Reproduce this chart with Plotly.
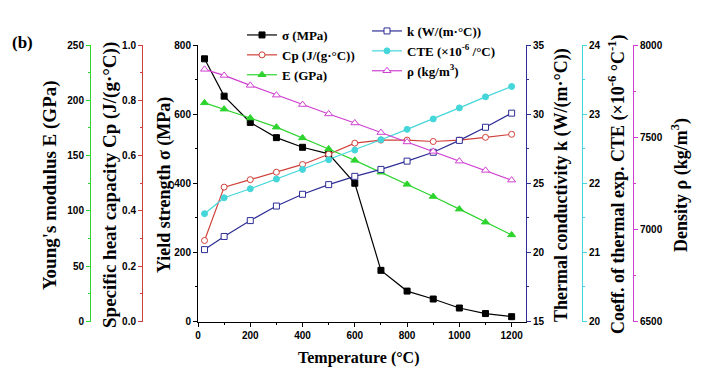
import plotly.graph_objects as go

temperature = [25, 100, 200, 300, 400, 500, 600, 700, 800, 900, 1000, 1100, 1200]
sigma = [760, 652, 576, 532, 504, 485, 400, 148, 88, 65, 39, 23, 14]
cp = [0.293, 0.486, 0.513, 0.540, 0.568, 0.605, 0.645, 0.656, 0.656, 0.651, 0.656, 0.666, 0.677]
E = [197.7, 192, 184, 175.7, 166, 156, 145.7, 135, 124, 113, 101.6, 89.8, 78.3]
k = [20.2, 21.15, 22.3, 23.35, 24.2, 24.9, 25.5, 26.0, 26.6, 27.24, 28.1, 29.05, 30.07]
cte = [21.56, 21.79, 21.92, 22.06, 22.2, 22.34, 22.48, 22.63, 22.78, 22.93, 23.09, 23.25, 23.4]
rho = [7868, 7835, 7781, 7728, 7677, 7626, 7577, 7525, 7474, 7423, 7370, 7320, 7267]

W, H = 712, 378
OFF = 8  # page body margin

def PX(x):
    return (x - OFF) / W

def PY(y):
    return 1 - (y - OFF) / H

BLACK = "#000000"
RED = "#d0403a"
GREEN = "#2ed42e"
NAVY = "#2e2e96"
CYAN = "#45d6da"
MAG = "#d040d0"

SERIF = "Liberation Serif"
SANS = "Liberation Sans"

fig = go.Figure()

def add(y, name, color, symbol, filled, yaxis, legend):
    fig.add_trace(go.Scatter(
        x=temperature, y=y, name=name, mode="lines+markers", yaxis=yaxis, legend=legend,
        line=dict(color=color, width=1.2),
        marker=dict(symbol=symbol, size=6 if symbol != "triangle-up" else 7,
                    color=color if filled else "white",
                    line=dict(color=color, width=1)),
    ))

add(sigma, "σ (MPa)", BLACK, "square", True, "y", "legend")
add(cp, "Cp (J/(g·°C))", RED, "circle", False, "y2", "legend")
add(E, "E (GPa)", GREEN, "triangle-up", True, "y3", "legend")
add(k, "k (W/(m·°C))", NAVY, "square", False, "y4", "legend2")
add(cte, "CTE (×10<sup>-6</sup> /°C)", CYAN, "circle", True, "y5", "legend2")
add(rho, "ρ (kg/m<sup>3</sup>)", MAG, "triangle-up", False, "y6", "legend2")

x0, x1 = PX(198), PX(526)
ytop, ybot = PY(45), PY(321.5)

tickfont = dict(family=SANS, size=10, color="black", weight="bold")

def yax(color, rng, dtick, mdtick, **kw):
    d = dict(range=rng, domain=[ybot, ytop], showline=True, linecolor=color, linewidth=1,
             ticks="outside", ticklen=4, tickwidth=1, tickcolor=color, dtick=dtick, tick0=rng[0],
             minor=dict(ticks="outside", ticklen=2, dtick=mdtick, tickcolor=color, tickwidth=1),
             showgrid=False, zeroline=False, tickfont=tickfont, automargin=False)
    d.update(kw)
    return d

legend_font = dict(family=SERIF, size=13, color="black", weight="bold")

fig.update_layout(
    width=W, height=H,
    margin=dict(l=0, r=0, t=0, b=0),
    paper_bgcolor="white", plot_bgcolor="white",
    xaxis=dict(domain=[x0, x1], range=[0, 1255], showline=True, linecolor="black", linewidth=1,
               ticks="outside", ticklen=4, tickwidth=1, tickcolor="black", dtick=200, tick0=0,
               minor=dict(ticks="outside", ticklen=2, dtick=100, tickcolor="black"),
               showgrid=False, zeroline=False, tickfont=tickfont, automargin=False),
    yaxis=yax("black", [0, 800], 200, 100, anchor="x", side="left"),
    yaxis2=yax(RED, [0, 1.0], 0.2, 0.1, anchor="free", overlaying="y", side="left",
               position=PX(142), tickformat=".1f"),
    yaxis3=yax(GREEN, [0, 250], 50, 25, anchor="free", overlaying="y", side="left",
               position=PX(90)),
    yaxis4=yax(NAVY, [15, 35], 5, 2.5, anchor="x", overlaying="y", side="right"),
    yaxis5=yax(CYAN, [20, 24], 1, 0.5, anchor="free", overlaying="y", side="right",
               position=PX(582)),
    yaxis6=yax(MAG, [6500, 8000], 500, 250, anchor="free", overlaying="y", side="right",
               position=PX(633)),
    legend=dict(x=PX(242), y=PY(20), xanchor="left", yanchor="top", bgcolor="rgba(0,0,0,0)",
                font=legend_font, itemwidth=30, tracegroupgap=0),
    legend2=dict(x=PX(367), y=PY(16), xanchor="left", yanchor="top", bgcolor="rgba(0,0,0,0)",
                 font=legend_font, itemwidth=30, tracegroupgap=0),
    showlegend=True,
)

ycen = PY(185)
annots = [
    ("Young's modulus E (GPa)", 50, 19),
    ("Specific heat capacity Cp (J/(g·°C))", 110, 19),
    ("Yield strength σ (MPa)", 164, 18),
    ("Thermal conductivity k (W/(m·°C))", 561, 18),
    ("Coeff. of thermal exp. CTE (×10<sup>-6</sup> °C<sup>-1</sup>)", 617, 18),
    ("Density ρ (kg/m<sup>3</sup>)", 680, 18),
]
for text, px, fs in annots:
    fig.add_annotation(text=text, x=PX(px), y=ycen, xref="paper", yref="paper", showarrow=False,
                       textangle=-90, font=dict(family=SERIF, size=fs, color="black", weight="bold"),
                       xanchor="center", yanchor="middle")

fig.add_annotation(text="Temperature (°C)", x=PX(358), y=PY(358), xref="paper", yref="paper",
                   showarrow=False, font=dict(family=SERIF, size=16, color="black", weight="bold"),
                   xanchor="center", yanchor="middle")
fig.add_annotation(text="(b)", x=PX(22), y=PY(42), xref="paper", yref="paper",
                   showarrow=False, font=dict(family=SERIF, size=17, color="black", weight="bold"),
                   xanchor="center", yanchor="middle")

fig.write_html("out.html")
